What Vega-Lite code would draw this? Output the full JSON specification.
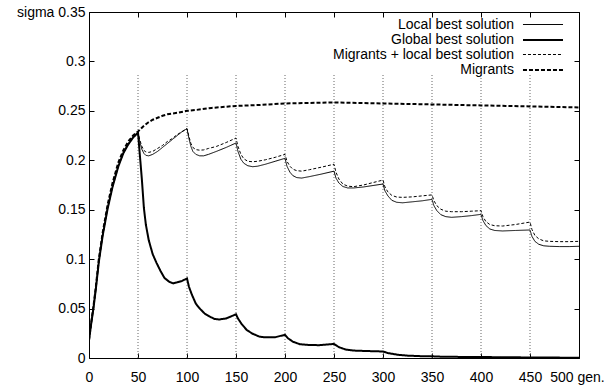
{
  "$schema": "https://vega.github.io/schema/vega-lite/v6.json",
  "width": 490,
  "height": 346,
  "autosize": {"type": "none"},
  "padding": {"left": 89, "top": 12, "right": 26, "bottom": 27},
  "config": {
    "font": "Liberation Sans",
    "view": {"stroke": "black", "strokeWidth": 1},
    "axis": {"grid": false, "domain": false, "tickColor": "black", "labelColor": "black", "labelFontSize": 14, "labelFont": "Liberation Sans", "title": null, "labelOverlap": false, "labelFlush": false}
  },
  "datasets": {
    "grid": [{"gx": 50}, {"gx": 100}, {"gx": 150}, {"gx": 200}, {"gx": 250}, {"gx": 300}, {"gx": 350}, {"gx": 400}, {"gx": 450}]
  },
  "data": {"values": [
    {"series": "Local best solution", "gen": 0, "sigma": 0.018},
    {"series": "Local best solution", "gen": 2, "sigma": 0.033},
    {"series": "Local best solution", "gen": 4.5, "sigma": 0.050},
    {"series": "Local best solution", "gen": 7, "sigma": 0.070},
    {"series": "Local best solution", "gen": 10, "sigma": 0.097},
    {"series": "Local best solution", "gen": 14, "sigma": 0.124},
    {"series": "Local best solution", "gen": 19, "sigma": 0.151},
    {"series": "Local best solution", "gen": 24, "sigma": 0.173},
    {"series": "Local best solution", "gen": 30, "sigma": 0.194},
    {"series": "Local best solution", "gen": 35, "sigma": 0.207},
    {"series": "Local best solution", "gen": 40, "sigma": 0.216},
    {"series": "Local best solution", "gen": 45, "sigma": 0.223},
    {"series": "Local best solution", "gen": 50, "sigma": 0.228},
    {"series": "Local best solution", "gen": 52, "sigma": 0.218},
    {"series": "Local best solution", "gen": 54, "sigma": 0.211},
    {"series": "Local best solution", "gen": 56, "sigma": 0.207},
    {"series": "Local best solution", "gen": 58, "sigma": 0.205},
    {"series": "Local best solution", "gen": 61, "sigma": 0.2045},
    {"series": "Local best solution", "gen": 65, "sigma": 0.206},
    {"series": "Local best solution", "gen": 70, "sigma": 0.209},
    {"series": "Local best solution", "gen": 75, "sigma": 0.213},
    {"series": "Local best solution", "gen": 80, "sigma": 0.217},
    {"series": "Local best solution", "gen": 85, "sigma": 0.221},
    {"series": "Local best solution", "gen": 90, "sigma": 0.225},
    {"series": "Local best solution", "gen": 95, "sigma": 0.229},
    {"series": "Local best solution", "gen": 100, "sigma": 0.232},
    {"series": "Local best solution", "gen": 102, "sigma": 0.222},
    {"series": "Local best solution", "gen": 104, "sigma": 0.214},
    {"series": "Local best solution", "gen": 106, "sigma": 0.209},
    {"series": "Local best solution", "gen": 109, "sigma": 0.206},
    {"series": "Local best solution", "gen": 113, "sigma": 0.2045},
    {"series": "Local best solution", "gen": 117, "sigma": 0.2045},
    {"series": "Local best solution", "gen": 122, "sigma": 0.206},
    {"series": "Local best solution", "gen": 130, "sigma": 0.209},
    {"series": "Local best solution", "gen": 140, "sigma": 0.213},
    {"series": "Local best solution", "gen": 150, "sigma": 0.2175},
    {"series": "Local best solution", "gen": 152, "sigma": 0.209},
    {"series": "Local best solution", "gen": 155, "sigma": 0.201},
    {"series": "Local best solution", "gen": 158, "sigma": 0.197},
    {"series": "Local best solution", "gen": 162, "sigma": 0.1945},
    {"series": "Local best solution", "gen": 167, "sigma": 0.1935},
    {"series": "Local best solution", "gen": 172, "sigma": 0.194},
    {"series": "Local best solution", "gen": 180, "sigma": 0.196},
    {"series": "Local best solution", "gen": 190, "sigma": 0.199},
    {"series": "Local best solution", "gen": 200, "sigma": 0.202},
    {"series": "Local best solution", "gen": 202, "sigma": 0.194},
    {"series": "Local best solution", "gen": 205, "sigma": 0.188},
    {"series": "Local best solution", "gen": 208, "sigma": 0.1845},
    {"series": "Local best solution", "gen": 212, "sigma": 0.1825},
    {"series": "Local best solution", "gen": 217, "sigma": 0.182},
    {"series": "Local best solution", "gen": 225, "sigma": 0.1835},
    {"series": "Local best solution", "gen": 237, "sigma": 0.186},
    {"series": "Local best solution", "gen": 250, "sigma": 0.189},
    {"series": "Local best solution", "gen": 252, "sigma": 0.182},
    {"series": "Local best solution", "gen": 255, "sigma": 0.177},
    {"series": "Local best solution", "gen": 259, "sigma": 0.1735},
    {"series": "Local best solution", "gen": 264, "sigma": 0.172},
    {"series": "Local best solution", "gen": 270, "sigma": 0.172},
    {"series": "Local best solution", "gen": 280, "sigma": 0.173},
    {"series": "Local best solution", "gen": 290, "sigma": 0.1745},
    {"series": "Local best solution", "gen": 300, "sigma": 0.176},
    {"series": "Local best solution", "gen": 302, "sigma": 0.169},
    {"series": "Local best solution", "gen": 305, "sigma": 0.164},
    {"series": "Local best solution", "gen": 309, "sigma": 0.1595},
    {"series": "Local best solution", "gen": 314, "sigma": 0.1575},
    {"series": "Local best solution", "gen": 320, "sigma": 0.157},
    {"series": "Local best solution", "gen": 330, "sigma": 0.158},
    {"series": "Local best solution", "gen": 340, "sigma": 0.159},
    {"series": "Local best solution", "gen": 350, "sigma": 0.1605},
    {"series": "Local best solution", "gen": 352, "sigma": 0.154},
    {"series": "Local best solution", "gen": 355, "sigma": 0.149},
    {"series": "Local best solution", "gen": 359, "sigma": 0.145},
    {"series": "Local best solution", "gen": 364, "sigma": 0.143},
    {"series": "Local best solution", "gen": 370, "sigma": 0.1423},
    {"series": "Local best solution", "gen": 380, "sigma": 0.143},
    {"series": "Local best solution", "gen": 390, "sigma": 0.144},
    {"series": "Local best solution", "gen": 400, "sigma": 0.1453},
    {"series": "Local best solution", "gen": 402, "sigma": 0.139},
    {"series": "Local best solution", "gen": 405, "sigma": 0.134},
    {"series": "Local best solution", "gen": 409, "sigma": 0.1305},
    {"series": "Local best solution", "gen": 414, "sigma": 0.129},
    {"series": "Local best solution", "gen": 422, "sigma": 0.1285},
    {"series": "Local best solution", "gen": 435, "sigma": 0.129},
    {"series": "Local best solution", "gen": 450, "sigma": 0.1295},
    {"series": "Local best solution", "gen": 452, "sigma": 0.123},
    {"series": "Local best solution", "gen": 455, "sigma": 0.118},
    {"series": "Local best solution", "gen": 459, "sigma": 0.115},
    {"series": "Local best solution", "gen": 464, "sigma": 0.1135},
    {"series": "Local best solution", "gen": 470, "sigma": 0.113},
    {"series": "Local best solution", "gen": 480, "sigma": 0.1127},
    {"series": "Local best solution", "gen": 490, "sigma": 0.1127},
    {"series": "Local best solution", "gen": 500, "sigma": 0.113},

    {"series": "Global best solution", "gen": 0, "sigma": 0.018},
    {"series": "Global best solution", "gen": 2, "sigma": 0.033},
    {"series": "Global best solution", "gen": 4.5, "sigma": 0.050},
    {"series": "Global best solution", "gen": 7, "sigma": 0.070},
    {"series": "Global best solution", "gen": 10, "sigma": 0.097},
    {"series": "Global best solution", "gen": 14, "sigma": 0.124},
    {"series": "Global best solution", "gen": 19, "sigma": 0.151},
    {"series": "Global best solution", "gen": 24, "sigma": 0.173},
    {"series": "Global best solution", "gen": 30, "sigma": 0.194},
    {"series": "Global best solution", "gen": 35, "sigma": 0.207},
    {"series": "Global best solution", "gen": 40, "sigma": 0.216},
    {"series": "Global best solution", "gen": 45, "sigma": 0.223},
    {"series": "Global best solution", "gen": 50, "sigma": 0.228},
    {"series": "Global best solution", "gen": 52, "sigma": 0.204},
    {"series": "Global best solution", "gen": 54, "sigma": 0.180},
    {"series": "Global best solution", "gen": 56, "sigma": 0.152},
    {"series": "Global best solution", "gen": 58, "sigma": 0.135},
    {"series": "Global best solution", "gen": 61, "sigma": 0.119},
    {"series": "Global best solution", "gen": 65, "sigma": 0.105},
    {"series": "Global best solution", "gen": 69, "sigma": 0.096},
    {"series": "Global best solution", "gen": 73, "sigma": 0.088},
    {"series": "Global best solution", "gen": 77, "sigma": 0.081},
    {"series": "Global best solution", "gen": 82, "sigma": 0.077},
    {"series": "Global best solution", "gen": 86, "sigma": 0.0755},
    {"series": "Global best solution", "gen": 90, "sigma": 0.0765},
    {"series": "Global best solution", "gen": 95, "sigma": 0.078},
    {"series": "Global best solution", "gen": 100, "sigma": 0.0805},
    {"series": "Global best solution", "gen": 102, "sigma": 0.072},
    {"series": "Global best solution", "gen": 105, "sigma": 0.064},
    {"series": "Global best solution", "gen": 109, "sigma": 0.055},
    {"series": "Global best solution", "gen": 113, "sigma": 0.050},
    {"series": "Global best solution", "gen": 118, "sigma": 0.045},
    {"series": "Global best solution", "gen": 123, "sigma": 0.042},
    {"series": "Global best solution", "gen": 128, "sigma": 0.0395},
    {"series": "Global best solution", "gen": 133, "sigma": 0.039},
    {"series": "Global best solution", "gen": 140, "sigma": 0.040},
    {"series": "Global best solution", "gen": 150, "sigma": 0.0442},
    {"series": "Global best solution", "gen": 152, "sigma": 0.040},
    {"series": "Global best solution", "gen": 156, "sigma": 0.034},
    {"series": "Global best solution", "gen": 161, "sigma": 0.0283},
    {"series": "Global best solution", "gen": 167, "sigma": 0.0245},
    {"series": "Global best solution", "gen": 174, "sigma": 0.0216},
    {"series": "Global best solution", "gen": 180, "sigma": 0.0209},
    {"series": "Global best solution", "gen": 190, "sigma": 0.021},
    {"series": "Global best solution", "gen": 200, "sigma": 0.0235},
    {"series": "Global best solution", "gen": 203, "sigma": 0.020},
    {"series": "Global best solution", "gen": 208, "sigma": 0.0165},
    {"series": "Global best solution", "gen": 215, "sigma": 0.014},
    {"series": "Global best solution", "gen": 225, "sigma": 0.0131},
    {"series": "Global best solution", "gen": 235, "sigma": 0.013},
    {"series": "Global best solution", "gen": 250, "sigma": 0.0142},
    {"series": "Global best solution", "gen": 255, "sigma": 0.011},
    {"series": "Global best solution", "gen": 262, "sigma": 0.0085},
    {"series": "Global best solution", "gen": 270, "sigma": 0.0075},
    {"series": "Global best solution", "gen": 285, "sigma": 0.007},
    {"series": "Global best solution", "gen": 300, "sigma": 0.0066},
    {"series": "Global best solution", "gen": 305, "sigma": 0.005},
    {"series": "Global best solution", "gen": 315, "sigma": 0.0033},
    {"series": "Global best solution", "gen": 325, "sigma": 0.0024},
    {"series": "Global best solution", "gen": 340, "sigma": 0.0018},
    {"series": "Global best solution", "gen": 350, "sigma": 0.0017},
    {"series": "Global best solution", "gen": 360, "sigma": 0.0013},
    {"series": "Global best solution", "gen": 380, "sigma": 0.0011},
    {"series": "Global best solution", "gen": 400, "sigma": 0.0011},
    {"series": "Global best solution", "gen": 420, "sigma": 0.0007},
    {"series": "Global best solution", "gen": 450, "sigma": 0.0006},
    {"series": "Global best solution", "gen": 475, "sigma": 0.0004},
    {"series": "Global best solution", "gen": 500, "sigma": 0.0003},

    {"series": "Migrants + local best solution", "gen": 0, "sigma": 0.018},
    {"series": "Migrants + local best solution", "gen": 2, "sigma": 0.034},
    {"series": "Migrants + local best solution", "gen": 4.5, "sigma": 0.051},
    {"series": "Migrants + local best solution", "gen": 7, "sigma": 0.071},
    {"series": "Migrants + local best solution", "gen": 10, "sigma": 0.098},
    {"series": "Migrants + local best solution", "gen": 14, "sigma": 0.125},
    {"series": "Migrants + local best solution", "gen": 19, "sigma": 0.152},
    {"series": "Migrants + local best solution", "gen": 24, "sigma": 0.174},
    {"series": "Migrants + local best solution", "gen": 30, "sigma": 0.195},
    {"series": "Migrants + local best solution", "gen": 35, "sigma": 0.208},
    {"series": "Migrants + local best solution", "gen": 40, "sigma": 0.217},
    {"series": "Migrants + local best solution", "gen": 45, "sigma": 0.224},
    {"series": "Migrants + local best solution", "gen": 50, "sigma": 0.228},
    {"series": "Migrants + local best solution", "gen": 52, "sigma": 0.220},
    {"series": "Migrants + local best solution", "gen": 54, "sigma": 0.214},
    {"series": "Migrants + local best solution", "gen": 56, "sigma": 0.210},
    {"series": "Migrants + local best solution", "gen": 58, "sigma": 0.2085},
    {"series": "Migrants + local best solution", "gen": 61, "sigma": 0.208},
    {"series": "Migrants + local best solution", "gen": 65, "sigma": 0.209},
    {"series": "Migrants + local best solution", "gen": 70, "sigma": 0.212},
    {"series": "Migrants + local best solution", "gen": 75, "sigma": 0.215},
    {"series": "Migrants + local best solution", "gen": 80, "sigma": 0.219},
    {"series": "Migrants + local best solution", "gen": 85, "sigma": 0.222},
    {"series": "Migrants + local best solution", "gen": 90, "sigma": 0.226},
    {"series": "Migrants + local best solution", "gen": 95, "sigma": 0.229},
    {"series": "Migrants + local best solution", "gen": 100, "sigma": 0.232},
    {"series": "Migrants + local best solution", "gen": 102, "sigma": 0.224},
    {"series": "Migrants + local best solution", "gen": 104, "sigma": 0.217},
    {"series": "Migrants + local best solution", "gen": 106, "sigma": 0.213},
    {"series": "Migrants + local best solution", "gen": 109, "sigma": 0.2108},
    {"series": "Migrants + local best solution", "gen": 113, "sigma": 0.2102},
    {"series": "Migrants + local best solution", "gen": 117, "sigma": 0.2105},
    {"series": "Migrants + local best solution", "gen": 122, "sigma": 0.212},
    {"series": "Migrants + local best solution", "gen": 130, "sigma": 0.214},
    {"series": "Migrants + local best solution", "gen": 140, "sigma": 0.218},
    {"series": "Migrants + local best solution", "gen": 150, "sigma": 0.2225},
    {"series": "Migrants + local best solution", "gen": 152, "sigma": 0.214},
    {"series": "Migrants + local best solution", "gen": 155, "sigma": 0.206},
    {"series": "Migrants + local best solution", "gen": 158, "sigma": 0.2015},
    {"series": "Migrants + local best solution", "gen": 162, "sigma": 0.199},
    {"series": "Migrants + local best solution", "gen": 167, "sigma": 0.1985},
    {"series": "Migrants + local best solution", "gen": 172, "sigma": 0.199},
    {"series": "Migrants + local best solution", "gen": 180, "sigma": 0.2005},
    {"series": "Migrants + local best solution", "gen": 190, "sigma": 0.203},
    {"series": "Migrants + local best solution", "gen": 200, "sigma": 0.206},
    {"series": "Migrants + local best solution", "gen": 202, "sigma": 0.199},
    {"series": "Migrants + local best solution", "gen": 205, "sigma": 0.194},
    {"series": "Migrants + local best solution", "gen": 208, "sigma": 0.191},
    {"series": "Migrants + local best solution", "gen": 212, "sigma": 0.1895},
    {"series": "Migrants + local best solution", "gen": 217, "sigma": 0.189},
    {"series": "Migrants + local best solution", "gen": 225, "sigma": 0.1905},
    {"series": "Migrants + local best solution", "gen": 237, "sigma": 0.193},
    {"series": "Migrants + local best solution", "gen": 250, "sigma": 0.196},
    {"series": "Migrants + local best solution", "gen": 252, "sigma": 0.188},
    {"series": "Migrants + local best solution", "gen": 255, "sigma": 0.181},
    {"series": "Migrants + local best solution", "gen": 259, "sigma": 0.176},
    {"series": "Migrants + local best solution", "gen": 264, "sigma": 0.1738},
    {"series": "Migrants + local best solution", "gen": 270, "sigma": 0.1733},
    {"series": "Migrants + local best solution", "gen": 280, "sigma": 0.175},
    {"series": "Migrants + local best solution", "gen": 290, "sigma": 0.1775},
    {"series": "Migrants + local best solution", "gen": 300, "sigma": 0.180},
    {"series": "Migrants + local best solution", "gen": 302, "sigma": 0.173},
    {"series": "Migrants + local best solution", "gen": 305, "sigma": 0.168},
    {"series": "Migrants + local best solution", "gen": 309, "sigma": 0.1645},
    {"series": "Migrants + local best solution", "gen": 314, "sigma": 0.1628},
    {"series": "Migrants + local best solution", "gen": 320, "sigma": 0.1625},
    {"series": "Migrants + local best solution", "gen": 330, "sigma": 0.163},
    {"series": "Migrants + local best solution", "gen": 340, "sigma": 0.164},
    {"series": "Migrants + local best solution", "gen": 350, "sigma": 0.165},
    {"series": "Migrants + local best solution", "gen": 352, "sigma": 0.159},
    {"series": "Migrants + local best solution", "gen": 355, "sigma": 0.154},
    {"series": "Migrants + local best solution", "gen": 359, "sigma": 0.1505},
    {"series": "Migrants + local best solution", "gen": 364, "sigma": 0.1485},
    {"series": "Migrants + local best solution", "gen": 370, "sigma": 0.148},
    {"series": "Migrants + local best solution", "gen": 380, "sigma": 0.148},
    {"series": "Migrants + local best solution", "gen": 390, "sigma": 0.1485},
    {"series": "Migrants + local best solution", "gen": 400, "sigma": 0.149},
    {"series": "Migrants + local best solution", "gen": 402, "sigma": 0.143},
    {"series": "Migrants + local best solution", "gen": 405, "sigma": 0.138},
    {"series": "Migrants + local best solution", "gen": 409, "sigma": 0.135},
    {"series": "Migrants + local best solution", "gen": 414, "sigma": 0.1338},
    {"series": "Migrants + local best solution", "gen": 422, "sigma": 0.1335},
    {"series": "Migrants + local best solution", "gen": 435, "sigma": 0.135},
    {"series": "Migrants + local best solution", "gen": 450, "sigma": 0.1375},
    {"series": "Migrants + local best solution", "gen": 452, "sigma": 0.130},
    {"series": "Migrants + local best solution", "gen": 455, "sigma": 0.124},
    {"series": "Migrants + local best solution", "gen": 459, "sigma": 0.1205},
    {"series": "Migrants + local best solution", "gen": 464, "sigma": 0.1185},
    {"series": "Migrants + local best solution", "gen": 470, "sigma": 0.118},
    {"series": "Migrants + local best solution", "gen": 480, "sigma": 0.1177},
    {"series": "Migrants + local best solution", "gen": 490, "sigma": 0.1177},
    {"series": "Migrants + local best solution", "gen": 500, "sigma": 0.118},

    {"series": "Migrants", "gen": 0, "sigma": 0.018},
    {"series": "Migrants", "gen": 2, "sigma": 0.034},
    {"series": "Migrants", "gen": 4.5, "sigma": 0.052},
    {"series": "Migrants", "gen": 7, "sigma": 0.072},
    {"series": "Migrants", "gen": 10, "sigma": 0.100},
    {"series": "Migrants", "gen": 14, "sigma": 0.127},
    {"series": "Migrants", "gen": 19, "sigma": 0.155},
    {"series": "Migrants", "gen": 24, "sigma": 0.177},
    {"series": "Migrants", "gen": 30, "sigma": 0.198},
    {"series": "Migrants", "gen": 35, "sigma": 0.210},
    {"series": "Migrants", "gen": 40, "sigma": 0.219},
    {"series": "Migrants", "gen": 45, "sigma": 0.225},
    {"series": "Migrants", "gen": 50, "sigma": 0.229},
    {"series": "Migrants", "gen": 55, "sigma": 0.234},
    {"series": "Migrants", "gen": 60, "sigma": 0.238},
    {"series": "Migrants", "gen": 65, "sigma": 0.241},
    {"series": "Migrants", "gen": 70, "sigma": 0.243},
    {"series": "Migrants", "gen": 75, "sigma": 0.245},
    {"series": "Migrants", "gen": 80, "sigma": 0.2465},
    {"series": "Migrants", "gen": 90, "sigma": 0.248},
    {"series": "Migrants", "gen": 100, "sigma": 0.250},
    {"series": "Migrants", "gen": 110, "sigma": 0.251},
    {"series": "Migrants", "gen": 125, "sigma": 0.253},
    {"series": "Migrants", "gen": 150, "sigma": 0.255},
    {"series": "Migrants", "gen": 175, "sigma": 0.256},
    {"series": "Migrants", "gen": 200, "sigma": 0.2575},
    {"series": "Migrants", "gen": 225, "sigma": 0.258},
    {"series": "Migrants", "gen": 250, "sigma": 0.2585},
    {"series": "Migrants", "gen": 275, "sigma": 0.258},
    {"series": "Migrants", "gen": 300, "sigma": 0.2575},
    {"series": "Migrants", "gen": 325, "sigma": 0.257},
    {"series": "Migrants", "gen": 350, "sigma": 0.2565},
    {"series": "Migrants", "gen": 375, "sigma": 0.256},
    {"series": "Migrants", "gen": 400, "sigma": 0.2555},
    {"series": "Migrants", "gen": 425, "sigma": 0.255},
    {"series": "Migrants", "gen": 450, "sigma": 0.2545},
    {"series": "Migrants", "gen": 475, "sigma": 0.254},
    {"series": "Migrants", "gen": 500, "sigma": 0.2535}
  ]},
  "resolve": {"axis": {"x": "independent", "y": "independent"}},
  "layer": [
    {
      "data": {"name": "grid"},
      "mark": {"type": "rule", "color": "#666", "strokeWidth": 1, "strokeDash": [1, 2]},
      "encoding": {
        "x": {"field": "gx", "type": "quantitative", "scale": {"domain": [0, 500], "nice": false},
          "axis": {"orient": "top", "values": [0, 50, 100, 150, 200, 250, 300, 350, 400, 450, 500], "labels": false, "tickSize": -5}},
        "y": {"datum": 0, "type": "quantitative", "scale": {"domain": [0, 0.35], "nice": false},
          "axis": {"orient": "right", "values": [0, 0.05, 0.1, 0.15, 0.2, 0.25, 0.3, 0.35], "labels": false, "tickSize": -5}},
        "y2": {"datum": 0.287}
      }
    },
    {
      "mark": {"type": "line", "color": "black", "clip": true},
      "encoding": {
        "x": {"field": "gen", "type": "quantitative", "scale": {"domain": [0, 500], "nice": false},
          "axis": {"orient": "bottom", "values": [0, 50, 100, 150, 200, 250, 300, 350, 400, 450, 500], "tickSize": -5, "labelPadding": 17,
            "labelOffset": {"condition": {"test": "datum.value == 500", "value": -2}, "value": 0},
            "labelExpr": "datum.value == 500 ? '500 gen.' : datum.label"}},
        "y": {"field": "sigma", "type": "quantitative", "scale": {"domain": [0, 0.35], "nice": false},
          "axis": {"orient": "left", "values": [0, 0.05, 0.1, 0.15, 0.2, 0.25, 0.3, 0.35], "tickSize": -5, "labelPadding": 9, "format": "~g",
            "labelExpr": "datum.value == 0.35 ? 'sigma 0.35' : datum.label"}},
        "strokeDash": {"field": "series", "type": "nominal",
          "scale": {"domain": ["Local best solution", "Global best solution", "Migrants + local best solution", "Migrants"],
            "range": [[1, 0], [1, 0], [3, 2], [4, 2]]},
          "legend": {"title": null, "orient": "none", "legendX": 446, "legendY": 5, "padding": 0, "rowPadding": -1,
            "symbolType": "M-2.86,0H2.86", "symbolSize": 196, "symbolStrokeColor": "black", "labelLimit": 400,
            "labelAlign": "right", "labelOffset": -37, "labelFontSize": 14, "labelFont": "Liberation Sans", "labelColor": "black"}},
        "strokeWidth": {"field": "series", "type": "nominal",
          "scale": {"type": "ordinal", "domain": ["Local best solution", "Global best solution", "Migrants + local best solution", "Migrants"],
            "range": [1, 2, 1, 2]}},
        "order": {"field": "gen", "type": "quantitative"}
      }
    }
  ]
}
